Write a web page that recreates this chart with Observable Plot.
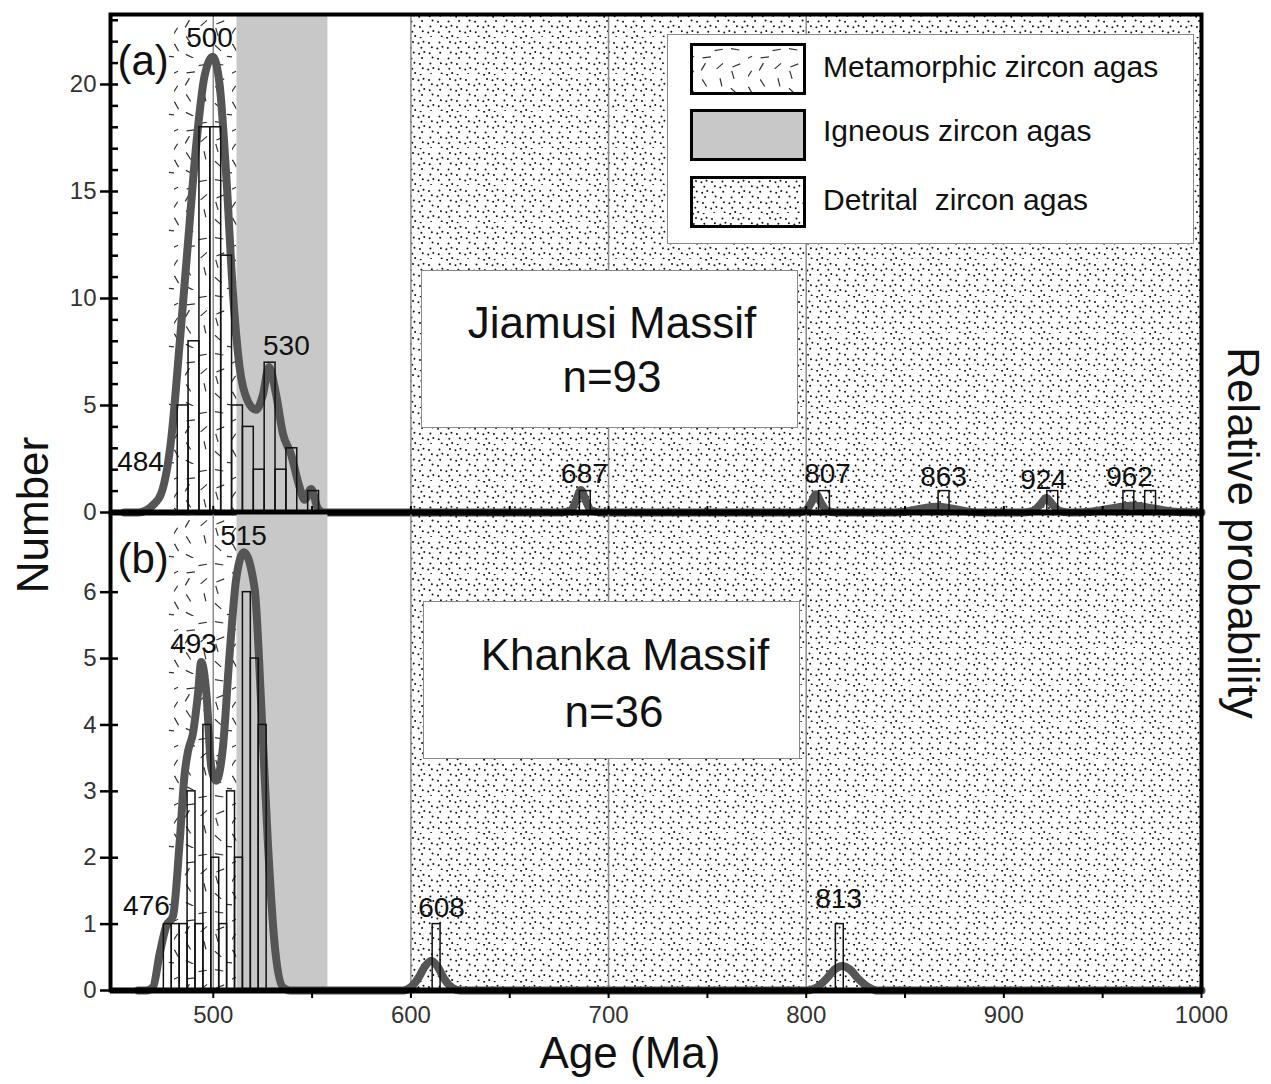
<!DOCTYPE html>
<html><head><meta charset="utf-8">
<script src="https://cdn.jsdelivr.net/npm/d3@7"></script>
<script src="https://cdn.jsdelivr.net/npm/@observablehq/plot@0.6"></script>
<style>
body{margin:0;background:#fff;font-family:"Liberation Sans",Arial,sans-serif;}
#wrap{position:relative;width:1271px;height:1084px;overflow:hidden;background:#fff;}
#wrap > svg{position:absolute;left:0;}
.box{position:absolute;background:#fff;border:1px solid #8a8a8a;box-sizing:border-box;}
.t{position:absolute;white-space:pre;color:#111;text-align:center;}
</style>
</head><body><div id="wrap"></div>
<script>
// ---------------- DATA ----------------
// Panel (a) Jiamusi Massif histogram (bin start ages, counts), bin width 5.5 Ma
const binWidthA = 5.5;
const binStartA = [482, 487.5, 493, 498.5, 504, 509.5, 515, 520.5, 526, 531.5, 537, 548, 685.5, 806.5, 867, 922, 960.5, 971.5];
const countA    = [5, 8, 18, 18, 12, 5, 4, 2, 7, 2, 3, 1, 1, 1, 1, 1, 1, 1];
// Panel (b) Khanka Massif histogram, bin width 4 Ma
const binWidthB = 4;
const binStartB = [475, 479, 483, 487, 491, 495, 499, 503, 507, 511, 515, 519, 523, 611, 815];
const countB    = [1, 1, 1, 3, 1, 4, 2, 1, 3, 2, 6, 5, 4, 1, 1];
// Relative probability curves (in count units of the left axis)
const curveAgeA = [455, 462, 466, 469.5, 473.7, 478.8, 483, 487.2, 491.4, 495.6, 499.8, 503.2, 506.6, 510, 513.3, 517.5, 521.7, 525.1, 528.2, 531.8, 535.2, 539.4, 543.6, 546.2, 549.5, 552.9, 556,
  676, 681, 683.5, 686, 688.5, 691, 696,
  795, 799.5, 802.5, 805, 807.5, 810.5, 815,
  840, 850, 858, 866, 874, 882, 890,
  910, 915, 918.5, 921.5, 924.5, 928, 933,
  935, 945, 955, 965, 975, 985, 995, 1000];
const curveValA = [0, 0, 0.1, 0.35, 0.9, 3.5, 7.9, 12.6, 17.2, 20.4, 21.3, 20.0, 15.7, 10.2, 6.8, 5.2, 4.8, 5.5, 6.8, 5.5, 3.7, 2.7, 1.2, 0.6, 1.1, 0.2, 0,
  0, 0.1, 0.55, 1.05, 0.55, 0.1, 0,
  0, 0.08, 0.45, 0.85, 0.45, 0.08, 0,
  0, 0.04, 0.18, 0.27, 0.18, 0.04, 0,
  0, 0.08, 0.38, 0.68, 0.38, 0.08, 0,
  0, 0.05, 0.2, 0.33, 0.2, 0.05, 0.01, 0];
const curveAgeB = [462, 466, 469.5, 472.9, 476.2, 479.6, 483, 485.5, 487.2, 489.7, 492.3, 493.9, 496.5, 499, 501.5, 504.9, 508.2, 511.6, 515.5, 520.9, 524.3, 527.6, 531, 535.2, 539,
  596, 600, 604, 607, 610.3, 613.5, 617, 621, 625,
  800, 805, 810, 814.5, 818.2, 822, 826.5, 832, 836, 1000];
const curveValB = [0, 0, 0.05, 0.56, 0.97, 1.12, 2.24, 3.26, 3.6, 3.87, 4.48, 4.95, 4.48, 3.36, 3.16, 3.67, 5.04, 6.2, 6.6, 6.06, 4.28, 2.24, 0.71, 0.05, 0,
  0, 0.05, 0.2, 0.36, 0.45, 0.36, 0.17, 0.04, 0,
  0, 0.04, 0.17, 0.32, 0.37, 0.32, 0.17, 0.04, 0, 0];
// Peak labels
const peakTextA = ["484", "500", "530", "687", "807", "863", "924", "962"];
const peakAgeA  = [463.2, 498.1, 537, 687.8, 810.8, 869.5, 920.1, 963.6];
const peakYA    = [2.34, 22.15, 7.76, 1.78, 1.78, 1.68, 1.54, 1.64];
const peakTextB = ["476", "493", "515", "608", "813"];
const peakAgeB  = [466.2, 490, 515.3, 615.5, 816.4];
const peakYB    = [1.27, 5.22, 6.84, 1.24, 1.38];
// Age ranges of the shaded zones
const metamorphicRange = [477, 512];
const igneousRange = [512, 558];
const detritalRange = [600, 1000];
const gridAges = [500, 600, 700, 800];
// Axes
const xDomain = [448, 1000];
const xTickLabels = [500, 600, 700, 800, 900, 1000];
const xMinorTicks = [500, 550, 600, 650, 700, 750, 800, 850, 900, 950, 1000];
const yDomainA = [0, 23.27];
const yTicksA = [0, 5, 10, 15, 20];
const yMinorA = [0,1,2,3,4,5,6,7,8,9,10,11,12,13,14,15,16,17,18,19,20,21,22,23];
const yDomainB = [0, 7.2];
const yTicksB = [0, 1, 2, 3, 4, 5, 6];
const legendItems = ["Metamorphic zircon agas", "Igneous zircon agas", "Detrital  zircon agas"];
const legendFills = ["url(#dashes)", "#c8c8c8", "url(#dots)"];

// ---------------- PATTERNS ----------------
const defsSvg = d3.select("body").append("svg").attr("width", 0).attr("height", 0)
  .style("position", "absolute").style("left", "0").style("top", "0");
const defs = defsSvg.append("defs");
const dotP = defs.append("pattern").attr("id", "dots").attr("patternUnits", "userSpaceOnUse")
  .attr("width", 37).attr("height", 37);
for (let i = 0; i < 34; i++) {
  const u = (0.31 + i * 0.7548776662) % 1, v = (0.17 + i * 0.5698402910) % 1;
  dotP.append("circle").attr("cx", u * 37).attr("cy", v * 37).attr("r", 1.0).attr("fill", "#111");
}
const dashP = defs.append("pattern").attr("id", "dashes").attr("patternUnits", "userSpaceOnUse")
  .attr("width", 58).attr("height", 58);
for (let i = 0; i < 15; i++) {
  const u = (0.23 + i * 0.7548776662) % 1, v = (0.41 + i * 0.5698402910) % 1;
  const a = ((i * 67) % 150 - 60) * Math.PI / 180;
  const cx = u * 58, cy = v * 58, h = 4.2;
  dashP.append("line").attr("x1", cx - h * Math.cos(a)).attr("y1", cy - h * Math.sin(a))
    .attr("x2", cx + h * Math.cos(a)).attr("y2", cy + h * Math.sin(a))
    .attr("stroke", "#333").attr("stroke-width", 1.2);
}

// ---------------- TABLES ----------------
const binsA = binStartA.map((s, i) => ({x1: s, x2: s + binWidthA, count: countA[i]}));
const binsB = binStartB.map((s, i) => ({x1: s, x2: s + binWidthB, count: countB[i]}));
const curveA = curveAgeA.map((a, i) => ({age: a, v: curveValA[i]}));
const curveB = curveAgeB.map((a, i) => ({age: a, v: curveValB[i]}));
const peaksA = peakTextA.map((t, i) => ({t, age: peakAgeA[i], y: peakYA[i]}));
const peaksB = peakTextB.map((t, i) => ({t, age: peakAgeB[i], y: peakYB[i]}));
const zones = [
  {r: metamorphicRange, fill: "url(#dashes)"},
  {r: igneousRange, fill: "#c8c8c8"},
  {r: detritalRange, fill: "url(#dots)"}
];

const FONT = "'Liberation Sans', Arial, sans-serif";
const noText = () => "";
const plain = d => String(d);

function panel(opts) {
  const {bins, curve, peaks, yDomain, yTicks, yMinor, tag, bottom, height, marginTop, marginBottom} = opts;
  const marks = [
    ...zones.map(z => Plot.rect([z.r], {x1: d => d[0], x2: d => d[1], fill: z.fill})),
    Plot.ruleX(gridAges, {stroke: "#8c8c8c", strokeWidth: 1.5}),
    Plot.line(curve, {x: "age", y: "v", curve: "monotone-x", stroke: "#555", strokeWidth: 8,
      strokeLinejoin: "round", strokeLinecap: "round"}),
    Plot.rect(bins, {x1: "x1", x2: "x2", y1: 0, y2: "count", fill: "none", stroke: "#111", strokeWidth: 1.5}),
    Plot.ruleY([0], {stroke: "#000", strokeWidth: 6}),
    Plot.frame({stroke: "#000", strokeWidth: 4}),
    Plot.axisY(yTicks, {anchor: "left", tickSize: 10, tickPadding: 4, fontSize: 24, fill: "#333", stroke: "#000", strokeWidth: 2.5, tickFormat: plain, label: null}),
    Plot.axisY(yMinor, {anchor: "left", tickSize: 8, dx: 8, tickFormat: noText, stroke: "#000", strokeWidth: 2.5, label: null}),
    Plot.text(peaks, {x: "age", y: "y", text: "t", fontSize: 28, fill: "#111"}),
    Plot.text([tag], {frameAnchor: "top-left", dx: 7, dy: 31, fontSize: 42, textAnchor: "start", fill: "#111"})
  ];
  if (bottom) {
    marks.push(Plot.axisX(xTickLabels, {anchor: "bottom", tickSize: 0, tickPadding: 15, fontSize: 24, fill: "#333", tickFormat: plain, label: null}));
    marks.push(Plot.axisX(xMinorTicks, {anchor: "bottom", tickSize: 8, tickFormat: noText, stroke: "#000", strokeWidth: 2, label: null}));
  } else {
    marks.push(Plot.axisX(xMinorTicks, {anchor: "bottom", tickSize: 6, dy: -6, tickFormat: noText, stroke: "#000", strokeWidth: 2, label: null}));
  }
  return Plot.plot({
    width: 1271, height, marginLeft: 110, marginRight: 70, marginTop, marginBottom,
    x: {domain: xDomain},
    y: {domain: yDomain},
    style: {background: "transparent", overflow: "visible", fontFamily: FONT, fontSize: "24px", color: "#111"},
    marks
  });
}

const wrap = document.getElementById("wrap");
const svgA = panel({bins: binsA, curve: curveA, peaks: peaksA, yDomain: yDomainA, yTicks: yTicksA, yMinor: yMinorA,
  tag: "(a)", bottom: false, height: 520, marginTop: 14, marginBottom: 8});
svgA.style.top = "0px";
wrap.appendChild(svgA);
const svgB = panel({bins: binsB, curve: curveB, peaks: peaksB, yDomain: yDomainB, yTicks: yTicksB, yMinor: yTicksB,
  tag: "(b)", bottom: true, height: 535, marginTop: 12, marginBottom: 45});
svgB.style.top = "500px";
wrap.appendChild(svgB);

// ---------------- ANNOTATIONS (HTML) ----------------
function text(str, cx, baseline, size, extra) {
  const d = document.createElement("div");
  d.className = "t";
  d.textContent = str;
  d.style.fontSize = size + "px";
  d.style.lineHeight = size + "px";
  d.style.left = (cx - 400) + "px";
  d.style.width = "800px";
  d.style.top = (baseline - 0.8465 * size) + "px";
  if (extra) Object.assign(d.style, extra);
  wrap.appendChild(d);
  return d;
}
function box(l, t, w, h) {
  const d = document.createElement("div");
  d.className = "box";
  Object.assign(d.style, {left: l + "px", top: t + "px", width: w + "px", height: h + "px"});
  wrap.appendChild(d);
}
box(421, 270, 377, 158);
text("Jiamusi Massif", 612, 338, 44);
text("n=93", 612, 392, 44);
box(423, 601, 377, 158);
text("Khanka Massif", 625, 670, 44);
text("n=36", 614, 727, 44);

// Legend
box(667, 34, 527, 210);
const rowsTop = [44, 110, 177];
const rowsBase = [77, 141, 210];
legendItems.forEach((name, i) => {
  const s = d3.select(wrap).append("svg").attr("width", 116).attr("height", 52)
    .style("position", "absolute").style("left", "690px").style("top", (rowsTop[i] - 1) + "px");
  s.append("rect").attr("x", 1.5).attr("y", 1.5).attr("width", 113).attr("height", 49)
    .attr("fill", legendFills[i]).attr("stroke", "#000").attr("stroke-width", 3);
  const d = document.createElement("div");
  d.className = "t";
  d.textContent = name;
  Object.assign(d.style, {fontSize: "30px", lineHeight: "30px", left: "823px", top: (rowsBase[i] - 0.8465 * 30) + "px", textAlign: "left"});
  wrap.appendChild(d);
});

// Axis titles
function rotated(str, cx, cy, deg, size) {
  const d = document.createElement("div");
  d.className = "t";
  d.textContent = str;
  Object.assign(d.style, {fontSize: size + "px", lineHeight: size + "px", left: cx + "px", top: cy + "px",
    transform: `translate(-50%,-50%) rotate(${deg}deg)`});
  wrap.appendChild(d);
}
rotated("Number", 33, 515, -90, 44);
rotated("Relative probability", 1243, 533, 90, 44);
text("Age (Ma)", 630, 1068, 44);
</script>
</body></html>
